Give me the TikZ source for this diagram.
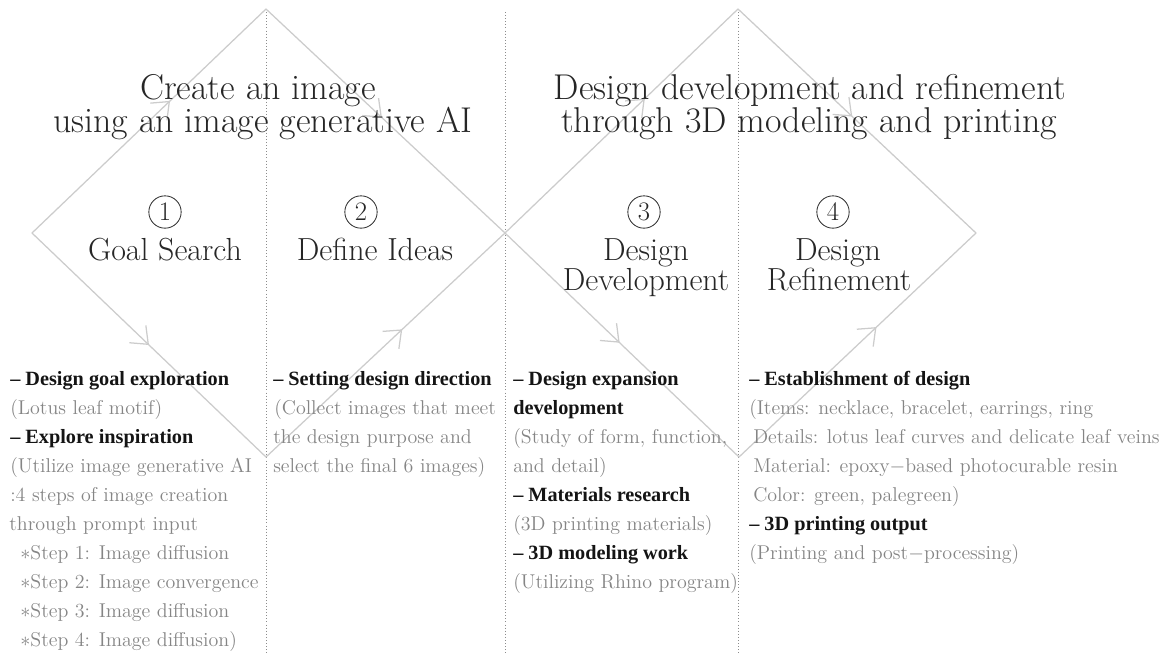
\documentclass[tikz,border=0pt]{standalone}
\usepackage{fontspec}
\newfontfamily\headfont{Liberation Serif}
\usepackage{tikz}
\usetikzlibrary{arrows.meta,decorations.markings,positioning}
\definecolor{edgegray}{gray}{0.80}
\definecolor{dotgray}{gray}{0.55}
\definecolor{bodygray}{gray}{0.52}
\definecolor{headblack}{gray}{0.08}
\tikzset{
  edge/.style={draw=edgegray, line width=0.9pt, line cap=round},
  flow/.style={
    postaction={decorate, decoration={markings,
      mark=at position #1 with {\arrow[edgegray, line width=0.9pt]{Straight Barb[length=10.5pt,width=17pt]}}}}
  },
  divider/.style={draw=dotgray, line width=0.6pt, dash pattern=on 0.7pt off 1.5pt},
  title/.style={anchor=base, inner sep=0pt, text=black!85, font=\fontsize{25.5}{26}\selectfont},
  phase/.style={anchor=base, inner sep=0pt, text=black!85, font=\fontsize{22.7}{23}\selectfont},
  num/.style={circle, draw=black!80, line width=0.6pt, minimum size=23pt, inner sep=0pt,
    text=black!85, font=\fontsize{19}{19}\selectfont},
  head/.style={anchor=base west, inner sep=0pt, text=headblack, font=\headfont\bfseries\fontsize{14.4}{15}\selectfont},
  body/.style={anchor=base west, inner sep=0pt, text=bodygray, font=\fontsize{14.2}{15}\selectfont},
}

\begin{document}
\begin{tikzpicture}[x=0.025cm, y=-0.025cm]
    \useasboundingbox (0,0) rectangle (1166,654);

    % corners of the two diamonds
    \coordinate (l1) at (32,233);
    \coordinate (t1) at (266,9);
    \coordinate (b1) at (266,457);
    \coordinate (m) at (505,233);
    \coordinate (t2) at (738,9);
    \coordinate (b2) at (739,457);
    \coordinate (r2) at (976,233);

    % dotted column dividers
    \coordinate (d1) at (266,12);
    \coordinate (d2) at (505,12);
    \coordinate (d3) at (738,12);
    \draw[divider] (d1) -- (d1 |- 0,654);
    \draw[divider] (d2) -- (d2 |- 0,654);
    \draw[divider] (d3) -- (d3 |- 0,654);

    % diverge / converge
    \draw[edge, flow=0.59] (l1) -- (t1);
    \draw[edge, flow=0.485] (t1) -- (m);
    \draw[edge, flow=0.50] (l1) -- (b1);
    \draw[edge, flow=0.57] (b1) -- (m);
    \draw[edge, flow=0.60] (m) -- (t2);
    \draw[edge, flow=0.48] (t2) -- (r2);
    \draw[edge, flow=0.49] (m) -- (b2);
    \draw[edge, flow=0.58] (b2) -- (r2);

    % titles
    \node[title] (ttl1a) at (258,99) {Create an image};
    \node[title] (ttl1b) at (263,132) {using an image generative AI};
    \node[title] (ttl2a) at (810,99) {Design development and refinement};
    \node[title] (ttl2b) at (809,132) {through 3D modeling and printing};

    % phases
    \node[num] (n1) at (165,212) {1};
    \node[num] (n2) at (361,212) {2};
    \node[num] (n3) at (644,212) {3};
    \node[num] (n4) at (833,212) {4};
    \node[phase] (p1) at (165,260) {Goal Search};
    \node[phase] (p2) at (375,260) {Define Ideas};
    \node[phase] (p3a) at (646,260) {Design};
    \node[phase] (p3b) at (646,290) {Development};
    \node[phase] (p4a) at (838,260) {Design};
    \node[phase] (p4b) at (839,290) {Refinement};

    % column 1
    \node[head] (a0) at (10,385) {– Design goal exploration};
    \node[body] (a1) at (10,414) {(Lotus leaf motif)};
    \node[head] (a2) at (10,443) {– Explore inspiration};
    \node[body] (a3) at (10,472) {(Utilize image generative AI};
    \node[body] (a4) at (10,501) {:4 steps of image creation};
    \node[body] (a5) at (9,530) {through prompt input};
    \node[body] (a6) at (20,559) {$\ast$Step 1: Image diffusion};
    \node[body] (a7) at (20,588) {$\ast$Step 2: Image convergence};
    \node[body] (a8) at (20,617) {$\ast$Step 3: Image diffusion};
    \node[body] (a9) at (20,646) {$\ast$Step 4: Image diffusion)};

    % column 2
    \node[head] (b0) at (273,385) {– Setting design direction};
    \node[body] (b1) at (274,414) {(Collect images that meet};
    \node[body] (b2) at (273,443) {the design purpose and};
    \node[body] (b3) at (273,472) {select the final 6 images)};

    % column 3
    \node[head] (c0) at (513,385) {– Design expansion};
    \node[head] (c1) at (513,414) {development};
    \node[body] (c2) at (513,443) {(Study of form, function,};
    \node[body] (c3) at (513,472) {and detail)};
    \node[head] (c4) at (513,501) {– Materials research};
    \node[body] (c5) at (513,530) {(3D printing materials)};
    \node[head] (c6) at (513,559) {– 3D modeling work};
    \node[body] (c7) at (513,588) {(Utilizing Rhino program)};

    % column 4
    \node[head] (e0) at (749,385) {– Establishment of design};
    \node[body] (e1) at (749,414) {(Items: necklace, bracelet, earrings, ring};
    \node[body] (e2) at (753,443) {Details: lotus leaf curves and delicate leaf veins};
    \node[body] (e3) at (753,472) {Material: epoxy$-$based photocurable resin};
    \node[body] (e4) at (753,501) {Color: green, palegreen)};
    \node[head] (e5) at (749,530) {– 3D printing output};
    \node[body] (e6) at (749,559) {(Printing and post$-$processing)};
\end{tikzpicture}
\end{document}
